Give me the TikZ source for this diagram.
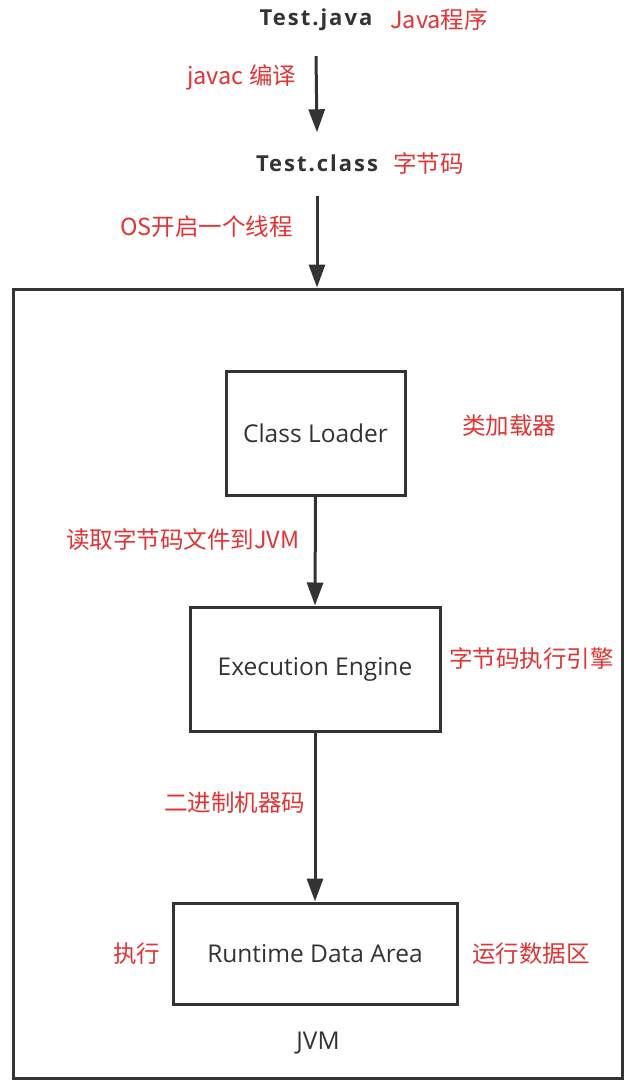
\documentclass[tikz,border=0pt]{standalone}
\usepackage{fontspec}
\setmainfont{Open Sans}
\newfontfamily\cjk{Noto Sans CJK SC}
\newfontfamily\boldlat[LetterSpace=9]{Open Sans}
\usetikzlibrary{arrows.meta}
\definecolor{dark}{RGB}{51,51,51}
\definecolor{lab}{RGB}{226,52,52}
\tikzset{
  box/.style={draw=dark, line width=3pt, inner sep=0pt, text=dark, font=\fontsize{24.5}{28}\selectfont},
  arr/.style={draw=dark, line width=3pt, -{Triangle[width=16pt,length=23pt]}},
  redlab/.style={text=lab, inner sep=0pt, font=\cjk\fontsize{23.5}{27}\selectfont},
  title/.style={text=dark, inner sep=0pt, font=\boldlat\bfseries\fontsize{22}{26}\selectfont},
}
\begin{document}
\begin{tikzpicture}[x=1pt,y=-1pt]
\useasboundingbox[fill=white] (0,0) rectangle (635,1092);
% top texts
\node[title] (tj) at (316,20) {Test.java};
\node[redlab, anchor=west] (tjl) at (390,20) {Java程序};
\node[redlab, anchor=west] (jv) at (187,77) {javac 编译};
\node[title] (tc) at (317,163) {Test.class};
\node[redlab, anchor=west] (tcl) at (393,163) {字节码};
\node[redlab, anchor=west] (os) at (120,227) {OS开启一个线程};
% JVM container
\node[box, minimum width=609pt, minimum height=789pt] (jvm) at (317.5,683.5) {};
\node[text=dark, inner sep=0pt, font=\fontsize{24.5}{28}\selectfont] (jvml) at (318,1043) {JVM};
% inner boxes
\node[box, minimum width=179pt, minimum height=124pt] (cl) at (315.5,433) {Class Loader};
\node[box, minimum width=250pt, minimum height=124pt] (ee) at (315,669) {Execution Engine};
\node[box, minimum width=284pt, minimum height=101pt] (rda) at (315,953.5) {Runtime Data Area};
% labels
\node[redlab, anchor=west] (cll) at (462,426) {类加载器};
\node[redlab, anchor=west] (rd) at (66,540) {读取字节码文件到JVM};
\node[redlab, anchor=west] (eel) at (449,659) {字节码执行引擎};
\node[redlab, anchor=west] (bin) at (164,803) {二进制机器码};
\node[redlab, anchor=west] (ex) at (113,954) {执行};
\node[redlab, anchor=west] (rdal) at (472,954) {运行数据区};
% connectors
\coordinate (a1s) at ([yshift=-25pt]tj.south);
\coordinate (a1e) at ([yshift=22pt]tc.north);
\draw[arr] (a1s) -- (a1e);
\coordinate (a2s) at ([yshift=-24pt]tc.south);
\draw[arr] (a2s) -- (a2s |- jvm.north);
\draw[arr] (cl.south) -- (ee.north);
\draw[arr] (ee.south) -- (rda.north);
\end{tikzpicture}
\end{document}
